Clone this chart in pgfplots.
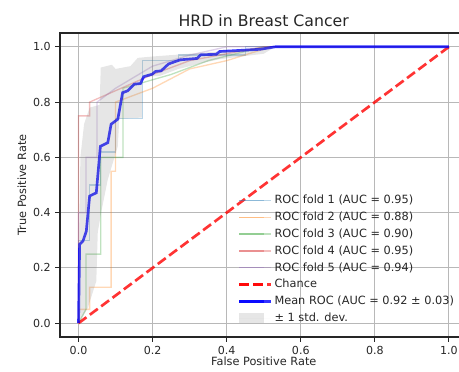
\documentclass[border=0pt]{standalone}
\usepackage{fontspec}
\setmainfont{DejaVu Sans}
\usepackage{pgfplots}
\pgfplotsset{compat=1.18}
\definecolor{tabblue}{HTML}{1F77B4}
\definecolor{taborange}{HTML}{FF7F0E}
\definecolor{tabgreen}{HTML}{2CA02C}
\definecolor{tabred}{HTML}{D62728}
\definecolor{tabpurple}{HTML}{9467BD}
\definecolor{txt}{HTML}{262626}
\pgfplotsset{stdlegend/.style={legend image code/.code={\fill[##1] (0pt,-3.7pt) rectangle (18.75pt,3.7pt); \path (0pt,0pt) -- (23.5pt,0pt);}}}
\begin{document}
\begin{tikzpicture}
\useasboundingbox (-45pt,-25.5pt) rectangle (299.25pt,252.75pt);
\clip (-45pt,-25.5pt) rectangle (299.25pt,252.75pt);
\begin{axis}[
  at={(0,0)}, anchor=south west,
  scale only axis, width=305.6pt, height=228pt,
  xmin=-0.05, xmax=1.05, ymin=-0.05, ymax=1.05,
  xtick={0,0.2,0.4,0.6,0.8,1.0}, ytick={0,0.2,0.4,0.6,0.8,1.0},
  xticklabels={0.0,0.2,0.4,0.6,0.8,1.0}, yticklabels={0.0,0.2,0.4,0.6,0.8,1.0},
  /pgf/number format/assume math mode=true,
  tick label style={font=\fontsize{8.3}{9.8}\selectfont, text=txt},
  tick align=outside, major tick length=3.5pt,
  xtick pos=left, ytick pos=left,
  tick style={line width=0.8pt, color=txt},
  axis line style={line width=0.8pt, color=txt},
  grid=major, major grid style={line width=0.8pt, color=black!28},
  title={HRD in Breast Cancer},
  every axis title/.style={at={(axis description cs:0.5,1)}, anchor=base, yshift=4.7pt, font=\fontsize{11.8}{14}\selectfont, text=txt},
  xlabel={False Positive Rate},
  every axis x label/.style={at={(axis description cs:0.5,0)}, anchor=base, yshift=-21pt, font=\fontsize{8.5}{10}\selectfont, text=txt},
  ylabel={True Positive Rate},
  every axis y label/.style={at={(axis description cs:-0.083,0.5)}, rotate=90, anchor=base, font=\fontsize{8.5}{10}\selectfont, text=txt},
  legend cell align=left,
  legend style={draw=none, fill=none, font=\fontsize{8.5}{10}\selectfont, text=txt,
    at={(axis description cs:0.984,0.026)}, anchor=south east, row sep=0.65pt},
  legend image code/.code={\draw[#1] (0pt,0pt) -- (18.75pt,0pt); \path (0pt,0pt) -- (23.5pt,0pt);},
]
% fold curves
\addplot[tabblue, line width=1pt, opacity=0.3] coordinates {
(0,0)(0,0.3)(0.03,0.3)(0.03,0.5)(0.06,0.5)(0.06,0.62)(0.1,0.62)(0.1,0.74)(0.172,0.74)(0.172,0.95)(0.27,0.95)(0.27,0.97)(0.45,0.97)(0.45,1)(1,1)};
\addlegendentry{ROC fold 1 (AUC = 0.95)}
\addplot[taborange, line width=1pt, opacity=0.3] coordinates {
(0,0)(0,0.05)(0.03,0.05)(0.03,0.13)(0.088,0.13)(0.088,0.55)(0.1,0.55)(0.1,0.8)(0.2,0.85)(0.3,0.92)(0.4,0.95)(0.52,1)(1,1)};
\addlegendentry{ROC fold 2 (AUC = 0.88)}
\addplot[tabgreen, line width=1pt, opacity=0.3] coordinates {
(0,0)(0.02,0.05)(0.02,0.25)(0.06,0.25)(0.06,0.6)(0.12,0.6)(0.12,0.85)(0.25,0.9)(0.35,0.95)(0.5,1)(1,1)};
\addlegendentry{ROC fold 3 (AUC = 0.90)}
\addplot[tabred, line width=1pt, opacity=0.3] coordinates {
(0,0)(0,0.75)(0.03,0.75)(0.03,0.8)(0.2,0.9)(0.3,0.95)(0.5,1)(1,1)};
\addlegendentry{ROC fold 4 (AUC = 0.95)}
\addplot[tabpurple, line width=1pt, opacity=0.3] coordinates {
(0,0)(0,0.4)(0.02,0.4)(0.02,0.6)(0.05,0.6)(0.05,0.8)(0.1,0.85)(0.2,0.93)(0.3,0.97)(0.4,1)(1,1)};
\addlegendentry{ROC fold 5 (AUC = 0.94)}
% chance
\addplot[red, line width=2pt, opacity=0.8, dash pattern=on 7.4pt off 3.2pt] coordinates {(0,0)(1,1)};
\addlegendentry{Chance}
% mean
\addplot[blue, line width=2pt, opacity=0.8] coordinates {
(0,0)(0.003,0.285)(0.012,0.297)(0.021,0.333)(0.03,0.46)(0.048,0.472)(0.059,0.64)(0.079,0.653)
(0.088,0.72)(0.106,0.738)(0.119,0.834)(0.133,0.841)(0.151,0.865)(0.167,0.867)(0.176,0.892)
(0.199,0.901)(0.208,0.911)(0.223,0.913)(0.243,0.938)(0.266,0.949)(0.275,0.953)(0.32,0.958)
(0.33,0.971)(0.372,0.973)(0.381,0.983)(0.49,0.991)(0.531,1.0)(1,1)};
\addlegendentry{Mean ROC (AUC = 0.92 ± 0.03)}
% std band: upper then lower reversed
\addplot[draw=none, fill=gray, fill opacity=0.2, stdlegend] coordinates {
(0,0)(0.002,0.3)(0.005,0.6)(0.015,0.72)(0.03,0.78)(0.057,0.79)(0.06,0.925)(0.09,0.935)(0.1,0.92)
(0.14,0.93)(0.16,0.96)(0.2,0.965)(0.3,0.975)(0.4,0.985)(0.5,1)(1,1)
(1,1)(0.531,1)(0.5,0.975)(0.38,0.955)(0.33,0.94)(0.27,0.92)(0.22,0.895)(0.172,0.89)(0.172,0.744)
(0.11,0.74)(0.106,0.64)(0.079,0.52)(0.061,0.40)(0.052,0.33)(0.048,0.152)(0.025,0.055)(0,0)} -- cycle;
\addlegendentry{± 1 std. dev.}
\end{axis}
\end{tikzpicture}
\end{document}
